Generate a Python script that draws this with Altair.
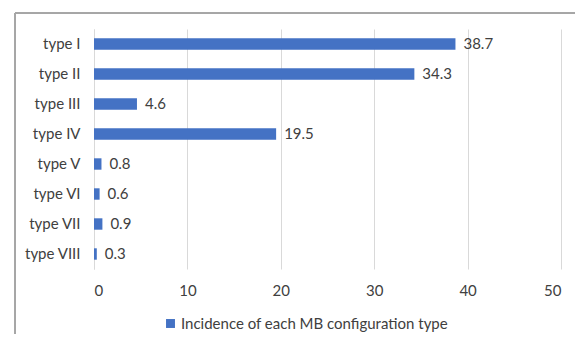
import altair as alt
import pandas as pd

categories = ["type I", "type II", "type III", "type IV", "type V", "type VI", "type VII", "type VIII"]
values = [38.7, 34.3, 4.6, 19.5, 0.8, 0.6, 0.9, 0.3]
series_name = "Incidence of each MB configuration type"
x_ticks = [0, 10, 20, 30, 40, 50]

df = pd.DataFrame({"type": categories, "value": values, "series": series_name})

FONT = "Lato"
TXT = "#404040"
FS = 15

x_enc = alt.X("value:Q", scale=alt.Scale(domain=[0, 50], nice=False),
              axis=alt.Axis(values=x_ticks, title=None, grid=True, gridColor="#d9d9d9",
                            domain=False, ticks=False, labelPadding=14, labelFontSize=FS,
                            labelColor=TXT, labelFont=FONT))
y_enc = alt.Y("type:N", sort=categories,
              scale=alt.Scale(paddingInner=0.62, paddingOuter=0.31),
              axis=alt.Axis(title=None, domain=True, domainColor="#d9d9d9", ticks=False,
                            labelPadding=14, labelFontSize=FS, labelColor=TXT, labelFont=FONT))

bars = alt.Chart(df).mark_bar(color="#4472C4").encode(
    x=x_enc, y=y_enc,
    color=alt.Color("series:N", scale=alt.Scale(range=["#4472C4"]),
                    legend=alt.Legend(title=None, orient="none", legendX=69, legendY=287,
                                      symbolType="square", symbolSize=80, symbolStrokeWidth=0,
                                      labelFontSize=FS, labelColor=TXT, labelFont=FONT,
                                      labelOffset=3, labelLimit=400))
)

labels = alt.Chart(df).mark_text(align="left", dx=8, fontSize=FS, color=TXT, font=FONT).encode(
    x="value:Q", y=alt.Y("type:N", sort=categories), text=alt.Text("value:Q", format=".1f")
)

frame = alt.Chart(df).mark_rect(fill=None, stroke="#a6a6a6", strokeWidth=1).encode(
    x=alt.value(-79), x2=alt.value(700), y=alt.value(-16), y2=alt.value(500)
)

chart = alt.layer(frame, bars, labels).properties(
    width=467, height=240,
    autosize=alt.AutoSizeParams(type="none"),
    padding={"left": 86, "top": 21, "right": 14, "bottom": 65},
    background="white",
).configure_view(stroke=None)

chart.save("out.html", embed_options={"renderer": "svg", "actions": False})
